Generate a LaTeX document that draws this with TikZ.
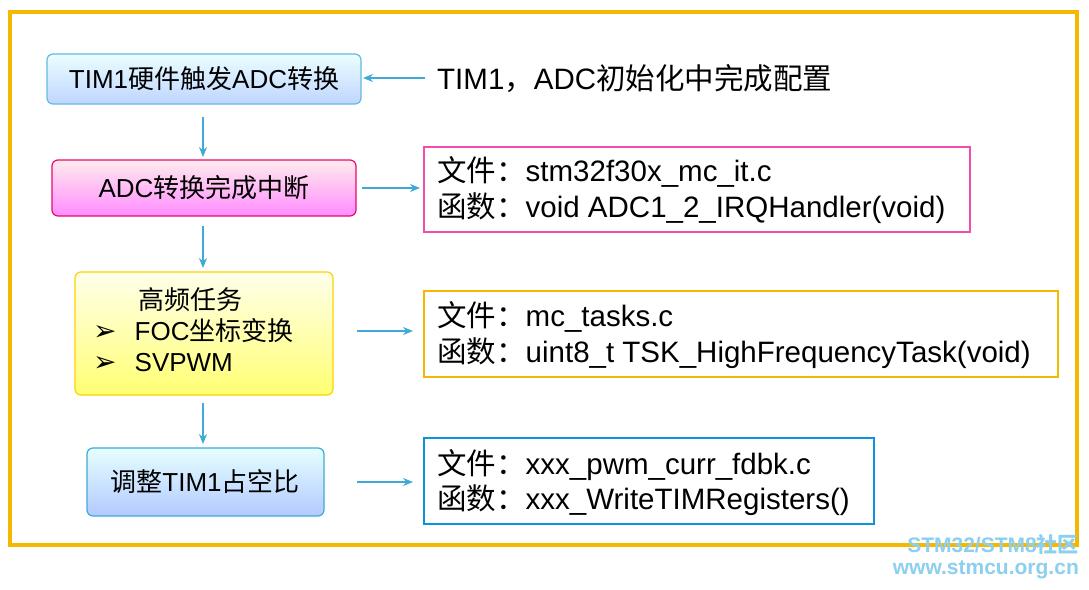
\documentclass[tikz,border=0pt]{standalone}
\usepackage{fontspec}
\setmainfont{Liberation Sans}
\newfontfamily\cjk{Noto Sans CJK SC}
\newfontfamily\dv{DejaVu Sans}
\newcommand{\C}[1]{{\cjk #1}}
\usetikzlibrary{arrows.meta}
\definecolor{gold}{HTML}{F5B800}
\definecolor{arr}{HTML}{3FA9D8}
\definecolor{wm}{HTML}{8CCFEE}
\tikzset{
 flow/.style={rounded corners=6pt,line width=1.2pt},
 arrow/.style={-{Stealth[length=10pt,width=8pt]},arr,line width=1.3pt},
 info/.style={line width=1.2pt},
 txt/.style={anchor=west,font=\fontsize{29.5}{31}\selectfont,inner sep=0pt},
 btxt/.style={font=\fontsize{26}{28}\selectfont,inner sep=0pt},
 wmt/.style={anchor=east,text=wm,font=\fontsize{21}{23}\selectfont\bfseries,inner sep=0pt}
}
\begin{document}
\begin{tikzpicture}[x=1pt,y=-1pt]
\useasboundingbox (0,0) rectangle (1089,589);
\fill[white] (0,0) rectangle (1089,589);
\draw[gold,line width=4pt] (10,12) rectangle (1077,545);
% boxes
\path[flow,draw=arr!80,top color=blue!5!cyan!8,bottom color=cyan!35!blue!25] (47,54) rectangle (361,104);
\node[btxt] (b1) at (204,79) {TIM1\C{硬件触发}ADC\C{转换}};
\path[flow,draw=magenta!70!red,top color=pink!30,bottom color=magenta!45] (52,160) rectangle (356,216);
\node[btxt] (b2) at (204,188) {ADC\C{转换完成中断}};
\path[flow,draw=yellow!70!orange,top color=yellow!8,bottom color=yellow!55] (75,272) rectangle (333,395);
\node[btxt] (b3) at (190,300) {\C{高频任务}};
\node[btxt,anchor=west] (b3a) at (93,331) {{\dv\fontsize{28}{30}\selectfont ➢}\hspace{18pt}FOC\C{坐标变换}};
\node[btxt,anchor=west] (b3b) at (93,363) {{\dv\fontsize{28}{30}\selectfont ➢}\hspace{18pt}SVPWM};
\path[flow,draw=arr,top color=cyan!10,bottom color=cyan!30!blue!30] (87,448) rectangle (324,516);
\node[btxt] (b4) at (205,482) {\C{调整}TIM1\C{占空比}};
\coordinate (b1s) at (203,117); \coordinate (b2n) at (203,157);
\coordinate (b2s) at (203,226); \coordinate (b3n) at (203,268);
\coordinate (b3s) at (203,403); \coordinate (b4n) at (203,444);
\draw[arrow] (b1s) -- (b2n);
\draw[arrow] (b2s) -- (b3n);
\draw[arrow] (b3s) -- (b4n);
% right side
\node[txt] (t0) at (437,79) {TIM1\C{，}ADC\C{初始化中完成配置}};
\coordinate (a0s) at (425,78); \coordinate (a0e) at (363,78);
\draw[arrow] (a0s) -- (a0e);
\draw[info,draw=magenta!70] (424,147) rectangle (970,232);
\node[txt] (t1) at (437,172) {\C{文件：}stm32f30x\_mc\_it.c};
\node[txt] (t2) at (437,208) {\C{函数：}void ADC1\_2\_IRQHandler(void)};
\coordinate (a1s) at (362,188); \coordinate (a1e) at (420,188);
\draw[arrow] (a1s) -- (a1e);
\draw[info,draw=gold] (424,291) rectangle (1058,377);
\node[txt] (t3) at (437,317) {\C{文件：}mc\_tasks.c};
\node[txt] (t4) at (437,353) {\C{函数：}uint8\_t TSK\_HighFrequencyTask(void)};
\coordinate (a2s) at (357,331); \coordinate (a2e) at (413,331);
\draw[arrow] (a2s) -- (a2e);
\draw[info,draw=cyan!80!blue] (424,438) rectangle (874,524);
\node[txt] (t5) at (437,465) {\C{文件：}xxx\_pwm\_curr\_fdbk.c};
\node[txt] (t6) at (437,500) {\C{函数：}xxx\_WriteTIMRegisters()};
\coordinate (a3s) at (357,482); \coordinate (a3e) at (413,482);
\draw[arrow] (a3s) -- (a3e);
% watermark
\node[wmt] (w1) at (1079,544) {STM32/STM8\C{社区}};
\node[wmt] (w2) at (1079,570) {www.stmcu.org.cn};
\end{tikzpicture}
\end{document}
